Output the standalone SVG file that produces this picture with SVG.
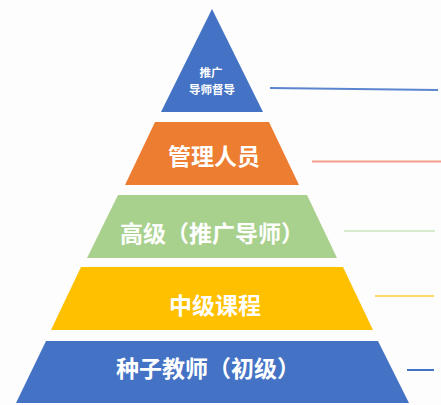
<svg xmlns="http://www.w3.org/2000/svg" width="441" height="405" viewBox="0 0 441 405">
<style>
.t{font-family:"Noto Sans CJK SC","Noto Sans",sans-serif;font-weight:bold;fill:#fff;text-anchor:middle}
.big{font-size:23px}
.sm{font-size:11.5px}
.ln{stroke-width:2;fill:none}
</style>
<rect width="441" height="405" fill="#fdfdfd"/>
<g id="level5">
<polygon points="212,9 263,112 161,112" fill="#4472c4"/>
<text class="t sm" x="211" y="77">推广</text>
<text class="t sm" x="212" y="93.5">导师督导</text>
</g>
<g id="level4">
<polygon points="155,122 269,122 299,185 125,185" fill="#ed7d31"/>
<text class="t big" x="214" y="165">管理人员</text>
</g>
<g id="level3">
<polygon points="118,195 307,195 337,258 87,258" fill="#a9d18e"/>
<text class="t big" x="212" y="242">高级（推广导师）</text>
</g>
<g id="level2">
<polygon points="81,267 343,267 373,330 51,330" fill="#ffc000"/>
<text class="t big" x="215" y="314">中级课程</text>
</g>
<g id="level1">
<polygon points="46,341 378,341 409,403 16,403" fill="#4472c4"/>
<text class="t big" x="208" y="377">种子教师（初级）</text>
</g>
<g id="connectors">
<line class="ln" x1="270" y1="88" x2="438" y2="90" stroke="#5b85cf"/>
<line class="ln" x1="312" y1="161.5" x2="441" y2="161.5" stroke="#f4a08c"/>
<line class="ln" x1="344" y1="231" x2="435" y2="231" stroke="#d8ebcd"/>
<line class="ln" x1="375" y1="296" x2="434" y2="296" stroke="#ffd966"/>
<line class="ln" x1="407" y1="370" x2="434" y2="370" stroke="#4472c4"/>
</g>
</svg>
